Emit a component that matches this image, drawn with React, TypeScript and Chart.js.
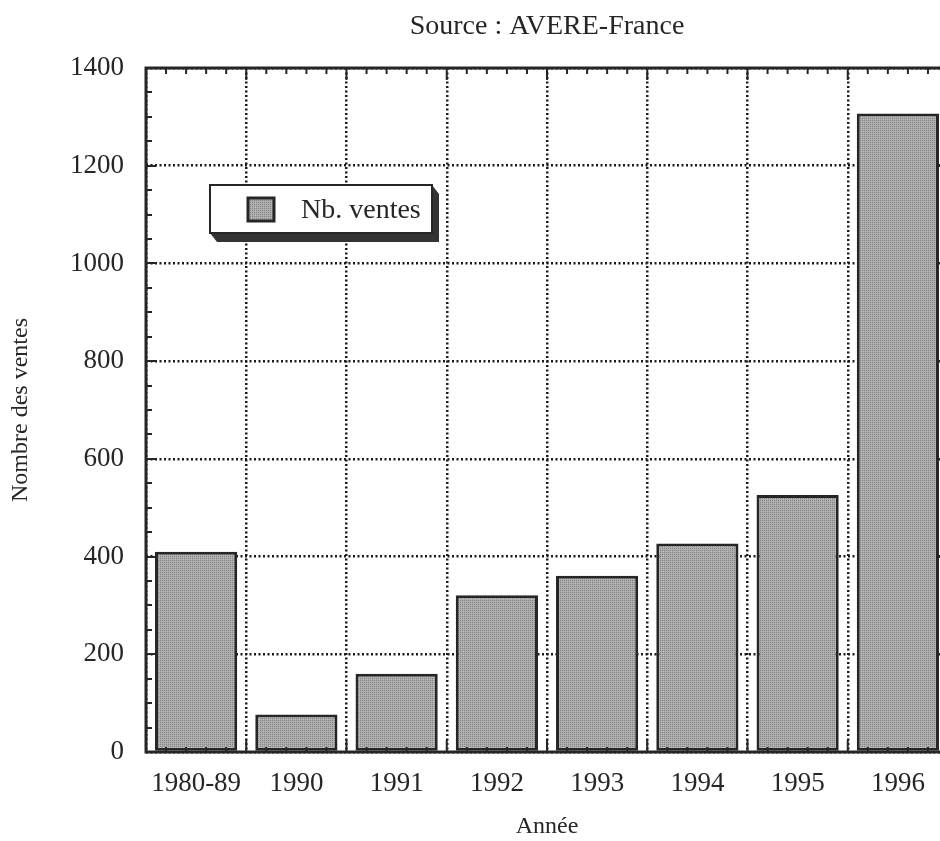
import React, { useEffect, useRef } from "react";
import { Chart, registerables } from "chart.js";

Chart.register(...registerables);

const categories: string[] = ["1980-89", "1990", "1991", "1992", "1993", "1994", "1995", "1996"];
const ventes: number[] = [410, 77, 160, 321, 361, 427, 526, 1307];
const seriesLabel = "Nb. ventes";
const chartTitle = "Source : AVERE-France";
const yTitle = "Nombre des ventes";
const xTitle = "Année";
const yMin = 0;
const yMax = 1400;
const yStep = 200;
const yMinorStep = 50;

const INK = "#262626";
const FONT = "'Liberation Serif', 'Times New Roman', serif";

function makeStipple(): CanvasPattern | string {
  const c = document.createElement("canvas");
  c.width = 4;
  c.height = 4;
  const g = c.getContext("2d");
  if (!g) return "#a2a2a2";
  g.fillStyle = "#acacac";
  g.fillRect(0, 0, 4, 4);
  g.fillStyle = "#858585";
  g.fillRect(0, 0, 1, 1);
  g.fillRect(2, 2, 1, 1);
  g.fillRect(2, 0, 1, 1);
  g.fillRect(0, 2, 1, 1);
  g.fillStyle = "#bdbdbd";
  g.fillRect(1, 1, 1, 1);
  g.fillRect(3, 3, 1, 1);
  const p = g.createPattern(c, "repeat");
  return p || "#a2a2a2";
}

const framePlugin = {
  id: "frame",
  afterDatasetsDraw(chart: any) {
    const { ctx, chartArea } = chart;
    const { left, right, top, bottom } = chartArea;
    const ys = chart.scales.y;
    const n = categories.length;
    const cw = (right - left) / n;
    ctx.save();
    ctx.strokeStyle = INK;
    ctx.lineCap = "butt";
    ctx.lineWidth = 2;
    for (let v = yMin; v <= yMax; v += yMinorStep) {
      const py = Math.round(ys.getPixelForValue(v));
      const len = v % yStep === 0 ? 10 : 6;
      ctx.beginPath();
      ctx.moveTo(left, py);
      ctx.lineTo(left + len, py);
      ctx.moveTo(right, py);
      ctx.lineTo(right - len, py);
      ctx.stroke();
    }
    for (let i = 0; i <= n; i++) {
      const bx = left + i * cw;
      ctx.beginPath();
      ctx.moveTo(bx, bottom);
      ctx.lineTo(bx, bottom - 12);
      ctx.moveTo(bx, top);
      ctx.lineTo(bx, top + 12);
      ctx.stroke();
      if (i < n) {
        for (let k = 1; k <= 4; k++) {
          const mx = bx + (k * cw) / 5;
          ctx.beginPath();
          ctx.moveTo(mx, bottom);
          ctx.lineTo(mx, bottom - 5);
          ctx.moveTo(mx, top);
          ctx.lineTo(mx, top + 6);
          ctx.stroke();
        }
      }
    }
    ctx.lineWidth = 3;
    ctx.strokeRect(left, top, right - left, bottom - top);
    ctx.restore();
  },
  afterDraw(chart: any) {
    const { ctx, chartArea } = chart;
    const { left, right, top } = chartArea;
    ctx.save();
    ctx.fillStyle = INK;
    ctx.font = `28px ${FONT}`;
    ctx.textAlign = "center";
    ctx.textBaseline = "alphabetic";
    ctx.fillText(chartTitle, (left + right) / 2, 34);

    const bx = left + 64;
    const by = top + 117;
    const bw = 222;
    const bh = 48;
    const dx = 7;
    const dy = 9;
    ctx.fillStyle = "#333333";
    ctx.beginPath();
    ctx.moveTo(bx, by + bh);
    ctx.lineTo(bx + dx, by + bh + dy);
    ctx.lineTo(bx + bw + dx, by + bh + dy);
    ctx.lineTo(bx + bw + dx, by + dy);
    ctx.lineTo(bx + bw, by);
    ctx.closePath();
    ctx.fill();
    ctx.fillStyle = "#ffffff";
    ctx.fillRect(bx, by, bw, bh);
    ctx.strokeStyle = INK;
    ctx.lineWidth = 2;
    ctx.strokeRect(bx, by, bw, bh);
    const ds = chart.data.datasets[0];
    ctx.fillStyle = ds.backgroundColor;
    ctx.fillRect(bx + 38, by + 13, 26, 23);
    ctx.lineWidth = 3;
    ctx.strokeRect(bx + 38, by + 13, 26, 23);
    ctx.fillStyle = INK;
    ctx.font = `28px ${FONT}`;
    ctx.textAlign = "left";
    ctx.textBaseline = "alphabetic";
    ctx.fillText(ds.label, bx + 91, by + 33);
    ctx.restore();
  },
};

export default function App() {
  const ref = useRef<HTMLCanvasElement | null>(null);
  useEffect(() => {
    const canvas = ref.current;
    if (!canvas) return;
    const fill = makeStipple();
    const chart = new Chart(canvas, {
      type: "bar",
      data: {
        labels: categories,
        datasets: [
          {
            label: seriesLabel,
            data: ventes,
            backgroundColor: fill as any,
            borderColor: INK,
            borderWidth: 3,
            borderSkipped: false,
            barPercentage: 0.82,
            categoryPercentage: 1,
          },
        ],
      },
      options: {
        responsive: false,
        animation: false,
        devicePixelRatio: 1,
        layout: { padding: { top: 68, right: 12, bottom: 0, left: 0 } },
        plugins: {
          legend: { display: false },
          title: { display: false },
          tooltip: { enabled: false },
        },
        scales: {
          x: {
            offset: true,
            grid: {
              offset: true,
              drawTicks: false,
              color: "#1a1a1a",
              lineWidth: 2.5,
            },
            border: { display: false, dash: [2, 2.5] },
            ticks: {
              color: INK,
              font: { family: FONT, size: 27 },
              padding: 16,
              maxRotation: 0,
            },
            title: {
              display: true,
              text: xTitle,
              color: INK,
              font: { family: FONT, size: 24 },
              padding: { top: 0, bottom: 0 },
            },
            afterFit: (s: any) => {
              s.height = 89;
            },
          },
          y: {
            min: yMin,
            max: yMax,
            grid: {
              drawTicks: false,
              color: "#1a1a1a",
              lineWidth: 2.5,
            },
            border: { display: false, dash: [2, 2.5] },
            ticks: {
              stepSize: yStep,
              color: INK,
              font: { family: FONT, size: 27 },
              padding: 22,
              callback: (v: any) => String(v),
            },
            title: {
              display: true,
              text: yTitle,
              color: INK,
              font: { family: FONT, size: 24 },
              padding: { top: 6, bottom: 0 },
            },
            afterFit: (s: any) => {
              s.width = 146;
            },
          },
        },
      },
      plugins: [framePlugin],
    });
    return () => chart.destroy();
  }, []);
  return (
    <div
      style={{
        position: "fixed",
        left: 0,
        top: 0,
        width: 940,
        height: 841,
        overflow: "hidden",
        background: "#ffffff",
      }}
    >
      <canvas ref={ref} width={960} height={841} style={{ width: 960, height: 841, display: "block" }} />
    </div>
  );
}
